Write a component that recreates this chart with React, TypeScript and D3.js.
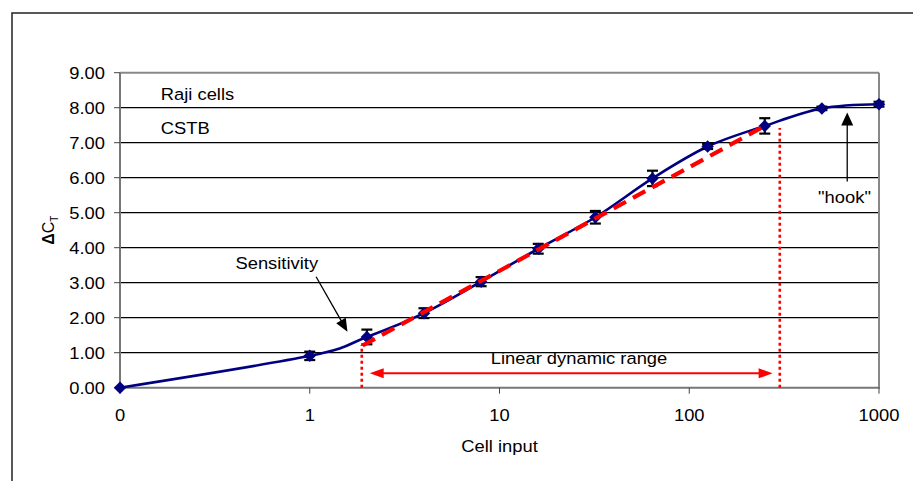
import React from "react";
import * as d3 from "d3";

// Raji cells, CSTB: ΔCt versus cell input (dilution series)
const cellInput = [0, 1, 2, 4, 8, 16, 32, 64, 125, 250, 500, 1000];
const deltaCt = [0.0, 0.91, 1.45, 2.13, 3.03, 3.97, 4.87, 5.98, 6.89, 7.48, 7.98, 8.1];
const ctError = [0, 0.12, 0.21, 0.14, 0.13, 0.14, 0.18, 0.22, 0.07, 0.22, 0.05, 0.07];

// Linear fit over the linear dynamic range: ΔCt = a + b·log10(input)
const fitRange = [1.9, 260];
const fitIntercept = 0.38;
const fitSlope = 2.96;

// Bounds of the linear dynamic range (dotted verticals) and their heights
const rangeBounds = [1.88, 300];
const rangeTops = [1.22, 7.42];
const rangeArrow = { from: 2.07, to: 275, y: 0.41 };

const yTicks = [0, 1, 2, 3, 4, 5, 6, 7, 8, 9];
const xTicks = [0, 1, 10, 100, 1000];

const W = 913;
const H = 481;
const plot = { left: 120, right: 879, top: 72.7, bottom: 387.7 };

const FONT = "'Liberation Sans', Arial, Helvetica, sans-serif";
const FS = 17;
const SX = 1.08;

const xLog = d3.scaleLog().domain([0.1, 1000]).range([plot.left, plot.right]);
const x = (v: number) => (v === 0 ? xLog(0.1) : xLog(v));
const y = d3.scaleLinear().domain([0, 9]).range([plot.bottom, plot.top]);

function Label(props: {
  x: number;
  y: number;
  anchor?: "start" | "middle" | "end";
  children: React.ReactNode;
  fill?: string;
}) {
  return (
    <text
      transform={`translate(${props.x},${props.y}) scale(${SX},1)`}
      textAnchor={props.anchor ?? "start"}
      fontFamily={FONT}
      fontSize={FS}
      fill={props.fill ?? "#000"}
    >
      {props.children}
    </text>
  );
}

export default function App() {
  const pts = cellInput.map((c, i) => [x(c), y(deltaCt[i])] as [number, number]);
  const curve = d3.line().curve(d3.curveCardinal.tension(0))(pts) ?? "";
  const fitLine =
    d3.line()(
      fitRange.map((c) => [x(c), y(fitIntercept + fitSlope * Math.log10(c))] as [number, number])
    ) ?? "";
  const diamond = d3.symbol(d3.symbolSquare, 78)() ?? "";

  const arrowHead = (tx: number, ty: number, angle: number, len: number, half: number, fill: string) => {
    const p = `M0,0 L${-len},${-half} L${-len},${half} Z`;
    return <path d={p} fill={fill} transform={`translate(${tx},${ty}) rotate(${angle})`} />;
  };

  // Sensitivity arrow in data coordinates
  const sensFrom = [x(1.08), y(3.17)];
  const sensTo = [x(1.58), y(1.6)];
  const sensAngle = (Math.atan2(sensTo[1] - sensFrom[1], sensTo[0] - sensFrom[0]) * 180) / Math.PI;

  const hookX = x(680);
  const hookFrom = y(5.89);
  const hookTo = y(7.86);

  return (
    <svg
      width={W}
      height={H}
      style={{ position: "fixed", left: 0, top: 0, background: "#fff" }}
    >
      <rect width={W} height={H} fill="#fff" />
      {/* outer frame */}
      <path d={`M12,${H} L12,13 L${W},13`} fill="none" stroke="#222" strokeWidth={1.5} />

      {/* gridlines */}
      {yTicks.slice(1, -1).map((t) => (
        <line key={t} x1={plot.left} x2={plot.right} y1={y(t)} y2={y(t)} stroke="#000" strokeWidth={1.2} />
      ))}
      {/* plot border top/right */}
      <line x1={plot.left} x2={plot.right} y1={y(9)} y2={y(9)} stroke="#888" strokeWidth={2} />
      <line x1={plot.right} x2={plot.right} y1={y(9)} y2={y(0)} stroke="#888" strokeWidth={2} />

      {/* axes */}
      <line x1={plot.left} x2={plot.left} y1={y(9)} y2={y(0)} stroke="#777" strokeWidth={2} />
      <line x1={plot.left} x2={plot.right + 1} y1={y(0)} y2={y(0)} stroke="#777" strokeWidth={2} />
      {yTicks.map((t) => (
        <g key={t}>
          <line x1={plot.left - 6} x2={plot.left} y1={y(t)} y2={y(t)} stroke="#444" strokeWidth={1} />
          <Label x={105} y={y(t) + 6} anchor="end">
            {d3.format(".2f")(t)}
          </Label>
        </g>
      ))}
      {xTicks.map((t) => (
        <g key={t}>
          <line x1={x(t)} x2={x(t)} y1={y(0)} y2={y(0) + 6} stroke="#444" strokeWidth={1} />
          <Label x={x(t)} y={421} anchor="middle">
            {String(t)}
          </Label>
        </g>
      ))}
      <Label x={(plot.left + plot.right) / 2} y={452} anchor="middle">
        Cell input
      </Label>
      <text
        transform={`translate(54,${(plot.top + plot.bottom) / 2}) rotate(-90)`}
        textAnchor="middle"
        fontFamily={FONT}
        fontSize={16}
        fill="#000"
      >
        <tspan fontWeight="bold">Δ</tspan>C
        <tspan fontSize={10} dy={4}>
          T
        </tspan>
      </text>

      {/* dotted bounds of linear dynamic range */}
      {rangeBounds.map((b, i) => (
        <line
          key={b}
          x1={x(b)}
          x2={x(b)}
          y1={y(0)}
          y2={y(rangeTops[i])}
          stroke="#ff0000"
          strokeWidth={2.6}
          strokeDasharray="3,3"
        />
      ))}
      {/* range arrow */}
      <line
        x1={x(rangeArrow.from) + 10}
        x2={x(rangeArrow.to) - 10}
        y1={y(rangeArrow.y)}
        y2={y(rangeArrow.y)}
        stroke="#ff0000"
        strokeWidth={2}
      />
      {arrowHead(x(rangeArrow.from), y(rangeArrow.y), 180, 14, 5, "#ff0000")}
      {arrowHead(x(rangeArrow.to), y(rangeArrow.y), 0, 14, 5, "#ff0000")}
      <Label x={579} y={364} anchor="middle">
        Linear dynamic range
      </Label>

      {/* smoothed data line */}
      <path d={curve} fill="none" stroke="#000080" strokeWidth={2.6} />

      {/* error bars */}
      {cellInput.map((c, i) =>
        ctError[i] > 0 ? (
          <g key={`e${i}`} stroke="#000" strokeWidth={2.2}>
            <line x1={x(c)} x2={x(c)} y1={y(deltaCt[i] - ctError[i])} y2={y(deltaCt[i] + ctError[i])} />
            <line x1={x(c) - 5.5} x2={x(c) + 5.5} y1={y(deltaCt[i] - ctError[i])} y2={y(deltaCt[i] - ctError[i])} />
            <line x1={x(c) - 5.5} x2={x(c) + 5.5} y1={y(deltaCt[i] + ctError[i])} y2={y(deltaCt[i] + ctError[i])} />
          </g>
        ) : null
      )}
      {/* markers */}
      {cellInput.map((c, i) => (
        <path
          key={`m${i}`}
          d={diamond}
          fill="#000080"
          transform={`translate(${x(c)},${y(deltaCt[i])}) rotate(45)`}
        />
      ))}

      {/* linear fit */}
      <path d={fitLine} fill="none" stroke="#ff0000" strokeWidth={4.2} strokeDasharray="14,8" />

      {/* annotations */}
      <Label x={x(0.164)} y={y(8.22)}>
        Raji cells
      </Label>
      <Label x={x(0.164)} y={y(7.25)}>
        CSTB
      </Label>

      <Label x={x(0.67)} y={y(3.39)} anchor="middle">
        Sensitivity
      </Label>
      <line
        x1={sensFrom[0]}
        y1={sensFrom[1]}
        x2={sensTo[0] - 11 * Math.cos((sensAngle * Math.PI) / 180)}
        y2={sensTo[1] - 11 * Math.sin((sensAngle * Math.PI) / 180)}
        stroke="#000"
        strokeWidth={1.3}
      />
      {arrowHead(sensTo[0], sensTo[1], sensAngle, 13, 5.5, "#000")}

      <line x1={hookX} x2={hookX} y1={hookFrom} y2={hookTo + 11} stroke="#000" strokeWidth={1.3} />
      {arrowHead(hookX, hookTo, -90, 13, 6, "#000")}
      <Label x={x(658)} y={y(5.27)} anchor="middle">
        "hook"
      </Label>
    </svg>
  );
}
